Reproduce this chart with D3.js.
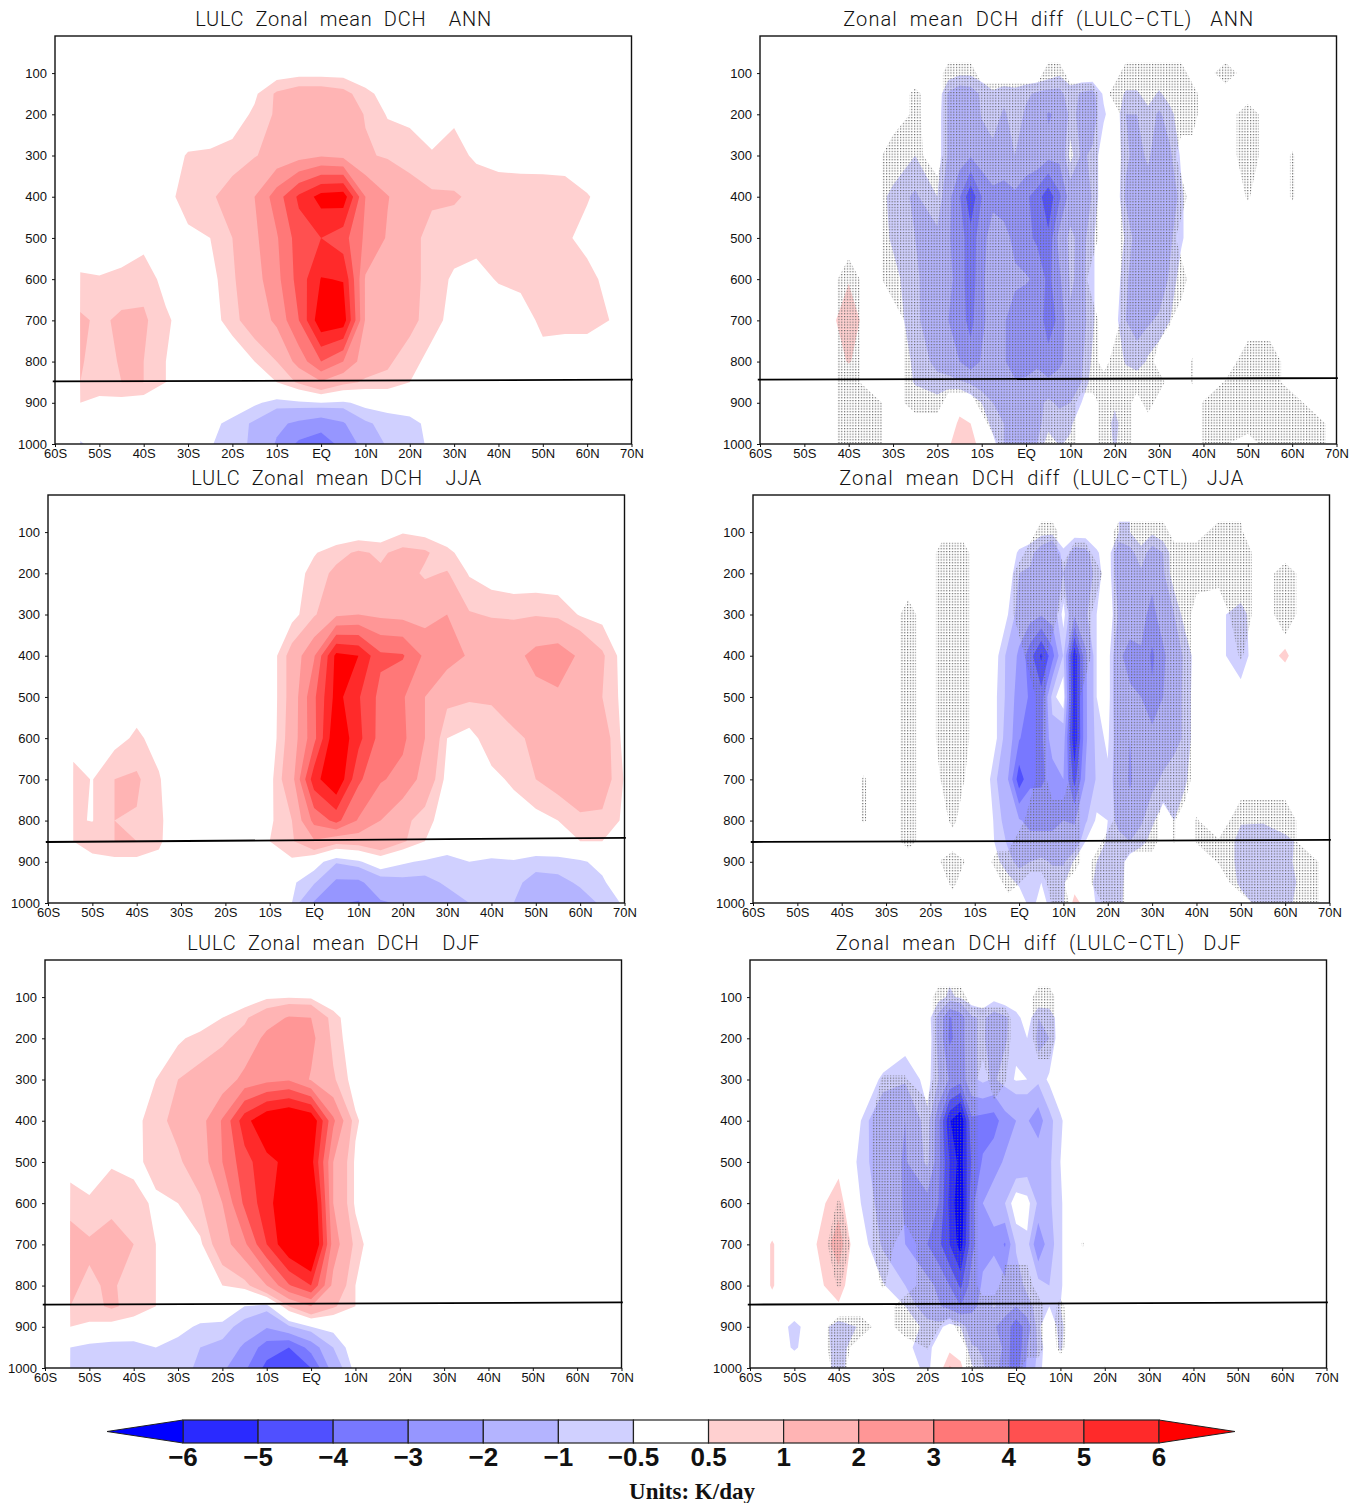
<!DOCTYPE html>
<html>
<head>
<meta charset="utf-8">
<title>Zonal mean DCH</title>
<script src="https://cdn.jsdelivr.net/npm/d3@7"></script>
<style>
  html, body { margin: 0; padding: 0; background: #fff; }
  svg { display: block; }
  .tick text { font-family: "Liberation Sans", sans-serif; font-size: 13px; fill: #111; }
  .title { font-family: Roboto, sans-serif; font-weight: 300; font-size: 20px; fill: #111; white-space: pre; }
</style>
</head>
<body>
<svg id="chart" width="1362" height="1503"></svg>
<script>
// pressure rows shared by every panel, top to bottom
var levels = [100, 150, 200, 300, 400, 500, 600, 700, 800, 850, 900, 950, 1000];
// first mean column is the edge of the data, nothing south of about 54S
var latsMean = [-54.4, -54.3, -50, -45, -40, -35, -30, -25, -20, -15, -10, -5, 0, 5, 10, 15, 20, 25, 30, 35, 40, 45, 50, 55, 60, 65, 70];
var latsDiff = [-60, -55, -50, -45, -40, -35, -30, -25, -20, -17.5, -15, -12.5, -10, -7.5, -5, -2.5, 0, 2.5, 5, 7.5, 10, 12.5, 15, 17.5, 20, 22.5, 25, 27.5, 30, 32.5, 35, 37.5, 40, 45, 50, 55, 60, 65, 70];

var pTicks = [100, 200, 300, 400, 500, 600, 700, 800, 900, 1000];
var latTicks = [-60, -50, -40, -30, -20, -10, 0, 10, 20, 30, 40, 50, 60, 70];
var latTickLabels = ['60S', '50S', '40S', '30S', '20S', '10S', 'EQ', '10N', '20N', '30N', '40N', '50N', '60N', '70N'];

var shadeSteps = [0.5, 1, 2, 3, 4, 5, 6];
var warmColors = ['#ffd0d0', '#ffb4b4', '#ff9696', '#ff7878', '#ff5050', '#ff2a2a', '#ff0000'];
var coolColors = ['#d0d0ff', '#b4b4ff', '#9696ff', '#7878ff', '#5050ff', '#2a2aff', '#0000ff'];
var legendLabels = ['\u22126', '\u22125', '\u22124', '\u22123', '\u22122', '\u22121', '\u22120.5', '0.5', '1', '2', '3', '4', '5', '6'];

// rows may stop early, whatever is missing on the right is zero
var annMean = [
  [0,0,0,0,0,0, 0,0,0,0,.2,.3, .3,.3],
  [0,0,0,0,0,0, 0,0,0,.4,1.1,1.4, 1.4,1.2,.7,.2],
  [0,0,0,0,0,0, 0,0,.2,.6,1.1,1.5, 1.6,1.5,.95,.45,.4,.2, .4,.1],
  [0,0,0,0,0,.2, .55,.6,.7,.95,1.3,1.6, 1.9,1.7,1.1,.9,.7,.55, .7,.4,.3,.3,.25,.2],
  [0,0,0,0,0,.2, .9,.9,1.3,2,3.5,5.2, 6.4,6.6,3,2.05,1.4,1.1, 1.05,.9,.8,.75,.8,.8, .55,.2],
  [0,0,0,0,.3,.1, .3,.5,1,1.8,2.9,4.5, 5,4.4,2.8,1.9,1.2,.8, .8,.7,.7,.7,.65,.6, .3],
  [0,.6,.55,.7,.8,.3, 0,.3,.9,1.6,2.7,4.4, 6.05,5.95,1.9,1.5,1.2,.8, .4,.3,.55,.6,.65,.7, .7,.3],
  [0,1.1,.9,1.1,1.1,.6, .2,.2,.8,1.4,2.2,4, 6.8,6.6,1.9,1.4,1.2,.7, .3,.1,.1,.3,.6,.6, .6,.5],
  [0,1.05,.8,1.05,1,.5, 0,0,0,.5,1,2.4, 4,3,1.4,1.1,.7,.3, .1,0,0,.1,.35,.3, .3,.1],
  [0,1,.7,1,1,.5, 0,0,0,.2,.5,1.1, 1.9,1.2,.9,.85,.5,.1],
  [0,.5,.4,.3,.2,.1, 0,0,0,-.4,-.7,-.6, -.5,-.6,-.3,-.2,-.1],
  [0,-.2,-.1,0,0,0, -.1,-.3,-.7,-1.1,-1.8,-2.2, -2.6,-2.1,-1.1,-.8,-.7,-.3],
  [0,-.55,-.3,0,0,0, -.3,-.45,-.8,-1.1,-2.1,-3.2, -3.5,-2.7,-1.6,-.9,-.7,-.4, -.1,0,0,0,-.45,-.5, -.2]
];

var jjaMean = [
  [0,0,0,0,0,0, 0,0,0,0,0,0, 0,0,.1,.1,.45,.3, .1],
  [0,0,0,0,0,0, 0,0,0,0,0,.2, .45,.8,1.1,.9,1.2,1.1, .65,.2],
  [0,0,0,0,0,0, 0,0,0,0,0,.2, .7,1.15,1.3,1.1,1.3,.9, 1.05,.45,.2,.1,.1,.1],
  [0,0,0,0,0,0, 0,0,0,0,0,.3, .9,1.8,2,1.8,1.7,1.6, 2,1.05,.95,.9,.95,.85, .45,.3],
  [0,0,0,0,0,0, 0,0,0,0,.1,1.3, 2.9,6.3,6,4.2,4.1,2.8, 2.4,1.9,1.6,1.7,2.3,2.5, 1.85,1.1,.2],
  [0,0,0,.1,.2,.1, 0,0,0,0,.1,1.3, 3.8,6.4,5.1,3.7,3.1,2, 1.2,1.1,1.05,1.3,1.7,1.85, 1.4,1,.3],
  [0,.3,.3,.3,.6,.3, 0,0,0,0,.1,1.4, 3.7,7,5.3,3.6,3.2,2, .5,.3,.8,.9,1.1,1.4, 1.5,1.4,.3],
  [0,.65,.48,1,1.1,.55, 0,0,0,0,.3,1.6, 5.6,7,4.2,3.1,2.7,1.6, .3,.4,.35,.6,1,1.3, 1.4,1.4,.45],
  [0,.55,.48,1,.95,.55, .3,0,0,0,.4,1, 3.3,4.3,2.9,2,1.2,.7, .2,0,.05,.2,.3,.5, .9,.85,.4],
  [0,.5,.8,1,1,.6, 0,0,0,0,.5,.9, 1.9,1.3,1.4,1.8,1.1,.5, .1,0,0,0,0,.1, .5,.5,.45],
  [0,.3,.3,.35,.35,.35, 0,0,0,0,.2,.4, -.2,-.9,-.6,0,-.4,-.6, -.8,-.5,-.6,-.55,-.7,-.7, -.6,-.3],
  [0,0,0,0,0,0, 0,0,0,0,0,-.4, -.9,-2.2,-2.2,-1.4,-1.2,-1.2, -.9,-.5,-.6,-.8,-1.3,-1.2, -.9,-.6],
  [0,0,0,0,0,0, 0,0,0,0,0,-.5, -2.1,-2.9,-3.1,-2.1,-1.9,-1.6, -1.3,-1,-.9,-1,-1.5,-1.6, -1.3,-.9,-.4]
];

var djfMean = [
  [0,0,0,0,0,0, 0,0,0,.1,.4,.45, .4,.1],
  [0,0,0,0,0,0, 0,.1,.5,.9,1.5,2.1, 2,.7,.1],
  [0,0,0,0,0,0, .4,.7,.9,1.2,2.3,2.5, 2.3,.8,.1],
  [0,0,0,0,0,.5, 1,1.2,1.4,2.3,2.7,2.9, 1.9,1.1,.2],
  [0,0,0,0,.3,.8, 1.2,1.6,3.1,5.6,7,7.5, 7,3.2,.6],
  [0,.3,.3,.45,.35,.7, .9,1.4,3,4.6,5.7,6.3, 6.4,2,.4],
  [0,.7,.55,.75,.7,.4, .5,.9,2,4.2,5.6,7, 7.6,2,.4],
  [0,1.4,1.1,1.4,1,.5, .2,.4,1.5,2.8,5,7, 8,2.5,.8],
  [0,1.1,.9,1.1,.7,.5, 0,0,.5,.7,2,3.9, 5,1.7,.5],
  [0,1,.8,1.1,.8,.5, 0,0,.1,-.5,-.7,1, 2,1.1,.5],
  [0,.5,.4,.3,.2,0, -.3,-.6,-.7,-1.3,-1.9,-1.1, -.5,-.3,.1],
  [0,-.5,-.7,-.8,-.8,-.5, -.7,-1,-1.2,-2.2,-3.5,-4, -2.6,-1,-.1],
  [0,-.7,-.8,-.8,-.7,-.6, -.8,-1.1,-1.8,-2.8,-4.3,-5, -4,-1.5,-.3]
];

var annDiff = [
  [0,0,0,0,0,0,0,0, 0,-.2,-.4,-.4,-.2, 0,0,0,0,0, -.2,-.4,-.2],
  [0,0,0,0,0,0,0,0, -.1,-1.1,-1.4,-1.3,-.9, -.6,-.8,-.7,-.9,-1.1, -1.2,-1.2,-.7,-1.1,-1.2, -.4,-.1,-.6,-.6,-.2, -.6,-.2],
  [0,0,0,0,0,0,0,0, -.2,-1.1,-1.5,-1.5,-.95, -.7,-1.1,-.7,-1.1,-1.1, -2.1,-1.8,-.8,-1.2,-1.3, -.6,-.1,-1,-1,-.7, -1.1,-.7,-.1],
  [0,0,0,0,0,0,0,-.5, -.2,-1.1,-1.5,-1.9,-1.4, -1.2,-1.1,-1,-1.2,-1.2, -1.7,-1.7,-.3,-1.1,-.9, -.1,0,-.9,-1.2,-.9, -1.4,-1.1,-.4],
  [0,0,0,0,0,0,-.7,-1.1, -.5,-1.7,-2.9,-4.8,-3, -2.3,-2.6,-2.2,-2.8,-3.5, -4.7,-3.2,-1.5,-1.8,-.9, -.1,0,-1.1,-1.9,-1.3, -1.9,-1.8,-.6,-.1],
  [0,0,0,0,0,0,-.6,-1, -1.2,-1.9,-2.5,-3.6,-2.4, -1.5,-1.6,-2.3,-2.7,-3.2, -3.8,-1.6,-.8,-1.3,-.6, 0,0,-.6,-1.3,-1.1, -1.9,-1.1,-.6,-.1],
  [0,0,0,0,.45,0,-.3,-.9, -1.4,-1.7,-2.5,-3.6,-2.2, -1.5,-1.6,-1.8,-1.9,-2.2, -3.3,-2.2,-.9,-1.2,-.6, 0,-.1,-.9,-1.4,-1.2, -1.4,-.9,-.2],
  [0,0,0,.2,.9,.1,-.2,-.8, -1.7,-2,-2.6,-3.3,-2.2, -1.6,-1.9,-2.5,-2.7,-2.5, -3.4,-2.8,-1.1,-1.3,-.6, 0,-.3,-1,-1.1,-1.1, -.9,-.5,-.1],
  [0,0,0,.1,.55,.1,-.1,-.6, -1.2,-1.6,-2,-2.6,-1.9, -1.7,-1.9,-2.5,-2.6,-2.2, -2.7,-2.2,-1.6,-1.1,-.4, 0,0,-.6,-.9,-.4, -.1],
  [0,0,0,0,0,0,0,-.55, -.8,-.7,-.9,-1.1,-1.4, -1.7,-1.9,-1.9,-1.8,-1.6, -1.8,-1.6,-1.3,-1,-.2],
  [0,0,0,0,0,0,0,-.2, -.3,-.1,.3,-.1,-.5, -1,-1.5,-1.5,-1.8,-1.3, -.8,-1.2,-1,-.5,0, -.1,-.4,-.1],
  [0,0,0,0,0,0,0,0, 0,.2,.6,.5,-.1, -.7,-1,-1.4,-1.9,-1.2, -.7,-.5,-.6,-.1,0, -.1,-.7,-.1],
  [0,0,0,0,0,0,0,0, 0,.4,.9,.7,.3, -.3,-1,-1.1,-1.1,-1, -.2,-.55,-.4,0,0, 0,-.6]
];

var jjaDiff = [
  [0,0,0,0,0,0,0,0, 0,0,0,0,0, 0,0,0,0,-.1, -.3,-.3,-.1,-.2,-.2, 0,0,-.5,-.5,-.1, -.4,-.1],
  [0,0,0,0,0,0,0,0, 0,0,0,0,0, 0,0,-.1,-.6,-.8, -1.4,-2,-.6,-1.3,-1.2, -.6,-.1,-1.6,-1.2,-.7, -1.3,-1,-.1],
  [0,0,0,0,0,0,0,0, 0,0,0,0,0, 0,0,-.1,-1,-1.1, -1.7,-2,-1,-1.4,-1.4, -.8,-.1,-1.5,-1.2,-1.1, -1.7,-1.1,-.1],
  [0,0,0,0,0,0,0,0, 0,0,0,0,0, 0,0,-.5,-1.3,-1.6, -1.9,-1.5,-.3,-1.8,-1.1, -.5,0,-1.1,-1.4,-1.7, -2.3,-1.5,-1,-.2,0, -.4,-.7],
  [0,0,0,0,0,0,0,0, 0,0,0,0,0, 0,-.4,-1.2,-2.2,-3.6, -5.2,-3.4,-.9,-5.8,-2.2, -.5,-.2,-1.8,-2.4,-2.1, -3.2,-2.2,-1.3,-.9,-.2, -.3,-.9,.25,.6],
  [0,0,0,0,0,0,0,0, 0,0,0,0,0, 0,-.5,-1.2,-2.6,-3.1, -3.6,-.7,-.1,-5.7,-2.2, -.5,-.2,-1.8,-1.8,-2, -2.8,-2,-1.2,-.9,-.1, 0,-.2],
  [0,0,0,0,0,0,0,0, 0,0,0,0,0, 0,-.5,-1.4,-2.9,-3.7, -3.3,-1.4,-1.5,-5.9,-2.2, -.7,-.4,-1.5,-2,-1.9, -1.6,-1.4,-1.2,-.9,-.1],
  [0,0,0,0,0,0,0,0, 0,0,0,0,0, -.2,-1,-2,-4.6,-3.2, -3.2,-2.6,-2,-4.4,-1.9, -.9,-.6,-1.5,-2.1,-1.6, -1.2,-.9,-.7,-.6],
  [0,0,0,0,0,0,0,0, 0,0,0,0,0, -.1,-.7,-1.4,-1.9,-2.3, -2.2,-2.1,-2,-2.1,-1.1, -.4,-.5,-1.3,-1.7,-1.1, -.6,-.2,-.5,-.1,0, 0,-.45,-.45,-.1],
  [0,0,0,0,0,0,0,0, 0,0,0,0,0, -.2,-.6,-1.1,-1.4,-1.7, -1.8,-1.9,-1.9,-1.6,-.5, -.1,-.6,-.7,-1,-.7, -.3,0,-.3,0,0, 0,-.7,-.8,-.7,-.2],
  [0,0,0,0,0,0,0,0, 0,0,0,0,0, -.1,-.4,-.8,-1.2,-1, -.8,-1.1,-1.1,-.4,-.1, -.5,-.9,-.8,-.2,0, 0,0,0,0,-.1, 0,-.7,-.9,-.65,-.2],
  [0,0,0,0,0,0,0,0, 0,0,0,0,0, 0,0,-.3,-.6,-.7, -.5,-.6,-.6,.1,-.1, -.7,-.9,-.8,-.1,0, 0,0,0,0,0, 0,-.6,-.8,-.7,-.3],
  [0,0,0,0,0,0,0,0, 0,0,0,0,0, 0,0,0,-.1,-.7, -.3,-.7,-.6,.8,.2, -.6,-.9,-.7,-.1,0, 0,0,0,0,0, 0,-.3,-.7,-.7,-.1]
];

var djfDiff = [
  [0,0,0,0,0,0,0,0, 0,-.3,-.6,-.4,-.1, 0,-.3,-.1,0,0],
  [0,0,0,0,0,0,0,0, -.2,-1.2,-3.1,-2.5,-1.1, -.9,-1.3,-1.1,-.7,-.2, -1,-.9,-.1],
  [0,0,0,0,0,0,0,-.2, -.1,-1.2,-3.2,-2.5,-1.1, -.9,-1.4,-1.1,-.6,-.5, -1.1,-1,-.1],
  [0,0,0,0,0,-.1,-.6,-.9, -.3,-1,-2.1,-2.6,-1.2, -.8,-1.1,-.7,-.45,-.5, -.8,-.4],
  [0,0,0,0,0,-.5,-1.9,-2, -.6,-2.7,-5.9,-7,-3.2, -3.4,-3.5,-2.4,-2,-1.9, -2.6,-1.2,-.6,-.1],
  [0,0,0,0,.3,-.7,-1.5,-2.1, -.8,-2.7,-5,-6.5,-3.8, -2.9,-2.3,-1.9,-1.6,-1.4, -1.2,-1.1,-.5],
  [0,0,0,.3,.8,-.5,-1.3,-2.1, -2.4,-3,-5.2,-7,-3.3, -2,-1.6,-1,-.1,-.3, -1.1,-1.1,-.6],
  [0,.55,0,.5,1.3,-.2,-1.1,-2, -3,-3.7,-5,-6.5,-3.3, -2.2,-2.3,-3.1,-.9,-.6, -3,-1.3,-.6],
  [0,.55,0,.4,.7,0,-.45,-1, -1.7,-2.2,-3,-4.2,-2.5, -1.9,-1.2,-1.7,-1.4,-.8, -.6,-1,-.6],
  [0,.3,0,.3,.45,0,0,-.5, -1.5,-1.9,-2.3,-3,-2.2, -1.8,-.9,-1.6,-2,-1.3, -.7,-.5,-.5],
  [0,0,-.7,0,-.9,-.4,0,-.1, -.7,-.7,-.2,-.5,-1.6, -1.5,-1.9,-2.4,-3.6,-2.6, -.6,-.1,-.7],
  [0,0,-.6,0,-.8,0,0,-.4, -.7,-.2,.3,.1,-.9, -1.1,-1.5,-2.2,-4,-2, -.9,0,-.6],
  [0,-.1,0,-.1,-.7,0,0,-.1, -.7,.1,1.1,.7,-.4, -.9,-1.5,-2.6,-3.6,-1.8, -.7,-.1]
];

// stippling: 0 none, 9 filled, 5-7 narrow strips. Groups follow latsDiff: 8|5|5|5|5|5|6
var annSig = [
  '00000000|09990|00000|99000|00999|99900|900000',
  '00000006|09999|99999|99999|09999|99990|000000',
  '00000006|09999|99999|99999|00999|99990|090000',
  '00000097|09999|99999|99999|00999|99000|090500',
  '00000099|99999|99999|99999|00999|99900|050500',
  '00000099|99999|99999|99999|00999|99000|000000',
  '00009099|99999|99999|99990|00999|99900|000000',
  '00009009|99999|99999|99999|00999|95000|000000',
  '00009009|99999|99999|99999|09999|00050|099000',
  '00009009|99999|99999|99999|99999|90050|599000',
  '00009909|90009|99999|99900|99909|00005|599900',
  '00009900|00000|99999|99900|99900|00005|599990',
  '00009900|00000|09999|99900|99900|00005|509990'
];
var jjaSig = [
  '00000000|00000|00000|99000|00999|99000|950000',
  '00000000|09990|00009|99099|00999|99999|990000',
  '00000000|09990|00099|99999|90999|99999|790900',
  '00000007|09990|00099|99099|00999|99990|090900',
  '00000007|09990|00009|90099|00999|99990|050000',
  '00000007|09990|00000|90090|00999|99990|000000',
  '00000007|09990|00000|90090|00999|99990|000000',
  '00000507|05950|00000|90090|00999|99990|000000',
  '00000507|00700|00009|99990|00999|90505|099900',
  '00000007|00000|00099|99990|09999|90505|599900',
  '00000000|05950|09999|99990|99900|00000|599990',
  '00000000|00700|00950|09500|99900|00000|099990',
  '00000000|00000|00000|05900|09900|00000|009990'
];
var djfSig = [
  '00000000|09990|00000|99000|00000|00000|000000',
  '00000000|09999|99900|99000|00000|00000|000000',
  '00000000|09999|99900|99000|00000|00000|000000',
  '00000055|09999|09500|00000|00000|00000|000000',
  '00000099|99999|00000|00000|00000|00000|000000',
  '00000099|99999|00000|00000|00000|00000|000000',
  '00005099|99999|00000|00000|00000|00000|000000',
  '00009090|99999|00000|00005|00000|00000|000000',
  '00005050|99999|00999|00000|00000|00000|000000',
  '00000009|99999|99999|90700|00000|00000|000000',
  '00009909|95099|99999|90900|00000|00000|000000',
  '00009000|50009|99999|90700|00000|00000|000000',
  '00007000|00009|99990|00000|05000|00000|000000'
];

// sloping black line on each panel, pressure at the left and right end
var lineAnnMean = [848, 844];
var lineAnnDiff = [844, 840];
var lineJjaMean = [852, 842];
var lineJjaDiff = [852, 847];
var lineDjfMean = [846, 841];
var lineDjfDiff = [846, 841];

var panels = [
  { x: 55, y: 36, title: 'LULC  Zonal  mean  DCH    ANN', tw: 296, lats: latsMean, grid: annMean, line: lineAnnMean },
  { x: 760, y: 36, title: 'Zonal  mean  DCH  diff  (LULC\u2212CTL)   ANN', tw: 410, lats: latsDiff, grid: annDiff, sig: annSig, line: lineAnnDiff },
  { x: 48, y: 495, title: 'LULC  Zonal  mean  DCH    JJA', tw: 290, lats: latsMean, grid: jjaMean, line: lineJjaMean },
  { x: 753, y: 495, title: 'Zonal  mean  DCH  diff  (LULC\u2212CTL)   JJA', tw: 404, lats: latsDiff, grid: jjaDiff, sig: jjaSig, line: lineJjaDiff },
  { x: 45, y: 960, title: 'LULC  Zonal  mean  DCH    DJF', tw: 292, lats: latsMean, grid: djfMean, line: lineDjfMean },
  { x: 750, y: 960, title: 'Zonal  mean  DCH  diff  (LULC\u2212CTL)   DJF', tw: 405, lats: latsDiff, grid: djfDiff, sig: djfSig, line: lineDjfDiff }
];

var W = 576.5, H = 408;
var svg = d3.select('#chart');
var defs = svg.append('defs');

defs.append('pattern')
  .attr('id', 'stipple')
  .attr('width', 2.8).attr('height', 2.8)
  .attr('patternUnits', 'userSpaceOnUse')
  .append('rect')
  .attr('width', 1.2).attr('height', 1.2)
  .attr('fill', '#6a6a6a');

var x = d3.scaleLinear().domain([-60, 70]).range([0, W]);
var y = d3.scaleLinear().domain([10, 1000]).range([0, H]);

panels.forEach(function (p, idx) {
  var g = svg.append('g').attr('transform', 'translate(' + p.x + ',' + p.y + ')');
  var n = p.lats.length, m = levels.length;

  defs.append('clipPath').attr('id', 'frame' + idx)
    .append('rect').attr('width', W).attr('height', H);

  // d3.contours puts cell i at i + 0.5
  var colToX = d3.scaleLinear().domain(p.lats.map(function (_, i) { return i + 0.5; })).range(p.lats.map(x));
  var rowToY = d3.scaleLinear().domain(levels.map(function (_, i) { return i + 0.5; })).range(levels.map(y));
  var path = d3.geoPath(d3.geoTransform({
    point: function (a, b) { this.stream.point(colToX(a), rowToY(b)); }
  }));
  var contours = d3.contours().size([n, m]);

  var values = [];
  p.grid.forEach(function (row) {
    for (var i = 0; i < n; i++) { values.push(row[i] || 0); }
  });

  var plot = g.append('g').attr('clip-path', 'url(#frame' + idx + ')');

  function shade(vals, colors) {
    plot.append('g').selectAll('path')
      .data(contours.thresholds(shadeSteps)(vals))
      .enter().append('path')
      .attr('d', path)
      .attr('fill', function (d, i) { return colors[i]; });
  }
  shade(values, warmColors);
  shade(values.map(function (v) { return -v; }), coolColors);

  if (p.sig) {
    var sigValues = [];
    p.sig.forEach(function (row) {
      row.replace(/\|/g, '').split('').forEach(function (c) { sigValues.push(+c); });
    });
    plot.append('g').selectAll('path')
      .data(contours.thresholds([4.5])(sigValues))
      .enter().append('path')
      .attr('d', path)
      .attr('fill', 'url(#stipple)');
  }

  g.append('rect')
    .attr('width', W).attr('height', H)
    .attr('fill', 'none').attr('stroke', '#111').attr('stroke-width', 1.4);

  g.append('path')
    .datum(p.line)
    .attr('fill', 'none').attr('stroke', '#000').attr('stroke-width', 1.8)
    .attr('d', d3.line()
      .x(function (d, i) { return i === 0 ? x(-60.5) : x(70.3); })
      .y(function (d) { return y(d); }));

  g.append('g')
    .attr('transform', 'translate(0,' + H + ')')
    .call(d3.axisBottom(x).tickValues(latTicks).tickSizeOuter(0).tickSize(3).tickPadding(2)
      .tickFormat(function (d, i) { return latTickLabels[i]; }))
    .call(function (a) {
      a.select('.domain').remove();
      a.selectAll('.tick line').attr('stroke', '#111');
    });

  g.append('g')
    .call(d3.axisLeft(y).tickValues(pTicks).tickSizeOuter(0).tickSize(3).tickPadding(5).tickFormat(d3.format('d')))
    .call(function (a) {
      a.select('.domain').remove();
      a.selectAll('.tick line').attr('stroke', '#111');
    });

  g.append('text')
    .attr('class', 'title')
    .attr('x', W / 2)
    .attr('y', -10)
    .attr('text-anchor', 'middle')
    .attr('textLength', p.tw)
    .attr('lengthAdjust', 'spacing')
    .text(p.title);
});

// colour key
var keyX = d3.scalePoint().domain(legendLabels).range([183, 1159]);
var keyColors = coolColors.slice().reverse().slice(1).concat(['#ffffff']).concat(warmColors.slice(0, 6));
var keyTop = 1420, keyH = 23;
var key = svg.append('g');

key.selectAll('rect').data(keyColors).enter().append('rect')
  .attr('x', function (d, i) { return keyX(legendLabels[i]); })
  .attr('y', keyTop)
  .attr('width', keyX.step())
  .attr('height', keyH)
  .attr('fill', function (d) { return d; })
  .attr('stroke', '#222').attr('stroke-width', 1.2);

key.append('path')
  .attr('d', 'M' + keyX(legendLabels[0]) + ',' + keyTop + 'L' + (keyX(legendLabels[0]) - 76) + ',' + (keyTop + keyH / 2) + 'L' + keyX(legendLabels[0]) + ',' + (keyTop + keyH) + 'Z')
  .attr('fill', coolColors[6]).attr('stroke', '#222').attr('stroke-width', 1);
key.append('path')
  .attr('d', 'M' + keyX(legendLabels[13]) + ',' + keyTop + 'L' + (keyX(legendLabels[13]) + 76) + ',' + (keyTop + keyH / 2) + 'L' + keyX(legendLabels[13]) + ',' + (keyTop + keyH) + 'Z')
  .attr('fill', warmColors[6]).attr('stroke', '#222').attr('stroke-width', 1);

key.selectAll('text').data(legendLabels).enter().append('text')
  .attr('x', function (d) { return keyX(d); })
  .attr('y', 1466)
  .attr('text-anchor', 'middle')
  .attr('font-family', '"Liberation Sans", sans-serif')
  .attr('font-weight', 'bold')
  .attr('font-size', 26)
  .attr('fill', '#111')
  .text(function (d) { return d; });

svg.append('text')
  .attr('x', 692).attr('y', 1499)
  .attr('text-anchor', 'middle')
  .attr('font-family', '"Liberation Serif", serif')
  .attr('font-weight', 'bold')
  .attr('font-size', 23)
  .attr('fill', '#111')
  .text('Units: K/day');
</script>
</body>
</html>
